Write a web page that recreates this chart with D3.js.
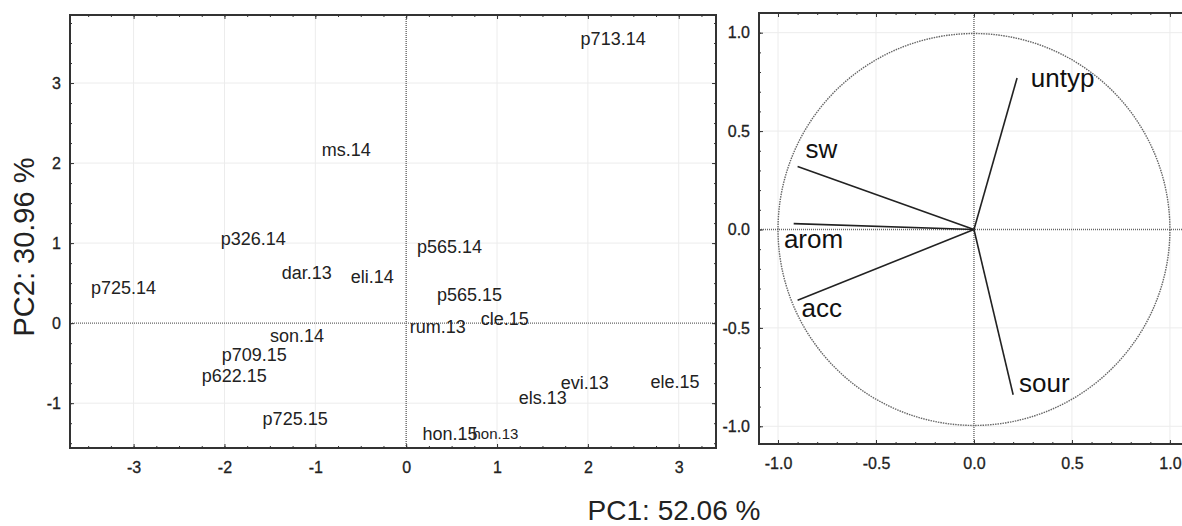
<!DOCTYPE html>
<html>
<head>
<meta charset="utf-8">
<script src="https://cdn.jsdelivr.net/npm/d3@7"></script>
<style>
  body { margin: 0; background: #fff; }
  svg { display: block; font-family: "Liberation Sans", Arial, sans-serif; }
  .domain { display: none; }
</style>
</head>
<body>
<div id="chart"></div>
<script>
// scores plot (label anchor positions in PC units)
var sampleNames = ["p713.14","ms.14","p326.14","p565.14","dar.13","eli.14","p725.14","p565.15",
  "cle.15","rum.13","son.14","p709.15","p622.15","p725.15","evi.13","ele.15","els.13","hon.15","hon.13"];
var pc1Scores = [1.92,-0.93,-2.04,0.12,-1.37,-0.61,-3.47,0.34,0.82,0.04,-1.50,-2.03,-2.25,-1.58,1.70,2.69,1.24,0.18,0.73];
var pc2Scores = [3.56,2.17,1.05,0.95,0.63,0.58,0.44,0.35,0.06,-0.05,-0.16,-0.39,-0.66,-1.19,-0.74,-0.73,-0.93,-1.38,-1.38];

// loadings plot
var varNames = ["untyp","sw","arom","acc","sour"];
var load1 = [0.22,-0.90,-0.92,-0.90,0.20];
var load2 = [0.77,0.32,0.03,-0.36,-0.84];
// where each variable name sits
var lab1 = [0.29,-0.86,-0.97,-0.88,0.23];
var lab2 = [0.77,0.41,-0.05,-0.40,-0.78];

var leftTicksX = [-3,-2,-1,0,1,2,3];
var leftTicksY = [-1,0,1,2,3];
var rightTicks = [-1.0,-0.5,0.0,0.5,1.0];

var width = 1182, height = 526;
var svg = d3.select("#chart").append("svg")
    .attr("width", width)
    .attr("height", height);

function panel(box, xDom, yDom, xt, yt, minorX, minorY, fmt) {
  var x = d3.scaleLinear().domain(xDom).range([box.l, box.r]);
  var y = d3.scaleLinear().domain(yDom).range([box.b, box.t]);
  var g = svg.append("g");

  // grid
  g.selectAll(".gx").data(xt.filter(d => d !== 0)).enter().append("line")
      .attr("x1", d => x(d)).attr("x2", d => x(d))
      .attr("y1", box.t).attr("y2", box.b)
      .attr("stroke", "#ececec").attr("stroke-width", 1);
  g.selectAll(".gy").data(yt.filter(d => d !== 0)).enter().append("line")
      .attr("y1", d => y(d)).attr("y2", d => y(d))
      .attr("x1", box.l).attr("x2", box.r)
      .attr("stroke", "#ececec").attr("stroke-width", 1);

  // zero lines
  g.append("line")
      .attr("x1", x(0)).attr("x2", x(0)).attr("y1", box.t).attr("y2", box.b)
      .attr("stroke", "#666").attr("stroke-width", 1.4).attr("stroke-dasharray", "1,1");
  g.append("line")
      .attr("y1", y(0)).attr("y2", y(0)).attr("x1", box.l).attr("x2", box.r)
      .attr("stroke", "#666").attr("stroke-width", 1.4).attr("stroke-dasharray", "1,1");

  // minor ticks, all four sides, inward
  var mx = d3.range(Math.ceil(xDom[0] / minorX), Math.floor(xDom[1] / minorX) + 1).map(i => i * minorX);
  var my = d3.range(Math.ceil(yDom[0] / minorY), Math.floor(yDom[1] / minorY) + 1).map(i => i * minorY);
  [[d3.axisBottom(x), box.b], [d3.axisTop(x), box.t]].forEach(function(a) {
    g.append("g").attr("transform", "translate(0," + a[1] + ")")
      .call(a[0].tickValues(mx).tickSize(-2).tickFormat(""))
      .selectAll("line").attr("stroke", "#333");
  });
  [[d3.axisLeft(y), box.l], [d3.axisRight(y), box.r]].forEach(function(a) {
    g.append("g").attr("transform", "translate(" + a[1] + ",0)")
      .call(a[0].tickValues(my).tickSize(-2).tickFormat(""))
      .selectAll("line").attr("stroke", "#333");
  });

  // major ticks with labels
  g.append("g").attr("transform", "translate(0," + box.b + ")")
      .call(d3.axisBottom(x).tickValues(xt).tickSizeInner(-4).tickSizeOuter(0).tickPadding(14).tickFormat(fmt));
  g.append("g").attr("transform", "translate(" + box.l + ",0)")
      .call(d3.axisLeft(y).tickValues(yt).tickSizeInner(-4).tickSizeOuter(0).tickPadding(9).tickFormat(fmt));
  g.append("g").attr("transform", "translate(0," + box.t + ")")
      .call(d3.axisTop(x).tickValues(xt).tickSizeInner(-4).tickFormat(""));
  g.append("g").attr("transform", "translate(" + box.r + ",0)")
      .call(d3.axisRight(y).tickValues(yt).tickSizeInner(-4).tickFormat(""));
  g.selectAll(".tick line").attr("stroke", "#333");
  g.selectAll(".tick text")
      .attr("font-size", 16)
      .attr("font-family", "Liberation Sans, Arial, sans-serif")
      .attr("fill", "#222")
      .attr("stroke", "#222").attr("stroke-width", 0.3);

  // frame
  g.append("rect")
      .attr("x", box.l).attr("y", box.t)
      .attr("width", box.r - box.l).attr("height", box.b - box.t)
      .attr("fill", "none").attr("stroke", "#333").attr("stroke-width", 2);

  return {g: g, x: x, y: y};
}

var fmtHyphen = d => String(d).replace("\u2212", "-");
var fmt1 = d => d3.format(".1f")(d).replace("\u2212", "-");

// left: scores
var L = panel({l: 70, r: 716, t: 15, b: 448}, [-3.7, 3.41], [-1.56, 3.85],
  leftTicksX, leftTicksY, 0.25, 0.25, fmtHyphen);

L.g.selectAll(".lbl").data(sampleNames).enter().append("text")
    .attr("x", (d, i) => L.x(pc1Scores[i]))
    .attr("y", (d, i) => L.y(pc2Scores[i]))
    .attr("dy", "0.35em")
    .attr("font-size", d => d === "hon.13" ? 15 : 18)
    .attr("fill", "#222")
    .text(d => d);

// right: loadings
var R = panel({l: 759, r: 1195, t: 13, b: 444}, [-1.097, 1.128], [-1.09, 1.1],
  rightTicks, rightTicks, 0.1, 0.1, fmt1);

R.g.append("circle")
    .attr("cx", R.x(0)).attr("cy", R.y(0))
    .attr("r", R.x(1) - R.x(0))
    .attr("fill", "none").attr("stroke", "#666").attr("stroke-width", 1.4)
    .attr("stroke-dasharray", "1.5,1");

R.g.selectAll(".vec").data(varNames).enter().append("line")
    .attr("x1", R.x(0)).attr("y1", R.y(0))
    .attr("x2", (d, i) => R.x(load1[i]))
    .attr("y2", (d, i) => R.y(load2[i]))
    .attr("stroke", "#222").attr("stroke-width", 1.6);

R.g.selectAll(".vl").data(varNames).enter().append("text")
    .attr("x", (d, i) => R.x(lab1[i]))
    .attr("y", (d, i) => R.y(lab2[i]))
    .attr("dy", "0.35em")
    .attr("font-size", 26)
    .attr("fill", "#111")
    .text(d => d);

// axis titles
svg.append("text")
    .attr("x", 674).attr("y", 520)
    .attr("text-anchor", "middle")
    .attr("font-size", 28)
    .attr("fill", "#222")
    .text("PC1: 52.06 %");

svg.append("text")
    .attr("transform", "translate(34,247) rotate(-90)")
    .attr("text-anchor", "middle")
    .attr("font-size", 29)
    .attr("fill", "#222")
    .text("PC2: 30.96 %");
</script>
</body>
</html>
